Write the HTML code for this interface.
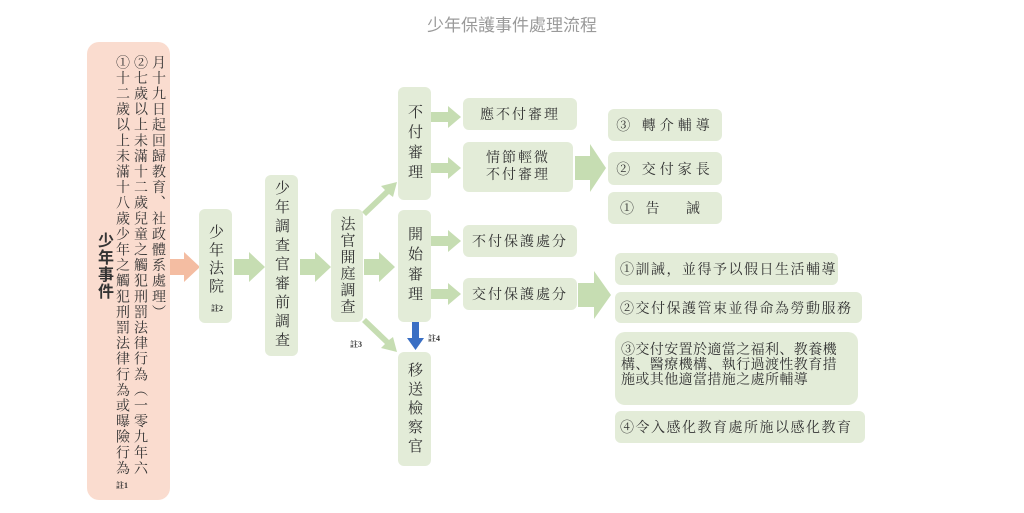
<!DOCTYPE html>
<html><head><meta charset="utf-8">
<style>
body{margin:0;width:1024px;height:513px;background:#fff;position:relative;overflow:hidden;font-family:"Liberation Serif","Noto Serif CJK SC","Noto Sans CJK TC",serif;color:#333}
.b{position:absolute;background:#e3ecd8;border-radius:6px;box-sizing:border-box}
.v{writing-mode:vertical-rl;display:flex;align-items:center;justify-content:center;font-size:15px;letter-spacing:3px}
.h{display:flex;align-items:center;justify-content:center;font-size:14px;letter-spacing:2px}
.col{position:absolute;writing-mode:vertical-rl;font-size:14px;letter-spacing:1.6px;line-height:17px}
.n{position:absolute;font-size:8px;font-weight:bold;color:#333}
svg{position:absolute;left:0;top:0}
</style></head><body>
<div style="position:absolute;left:0;width:1024px;top:11px;text-align:center;font-family:'Liberation Sans','Noto Sans CJK TC',sans-serif;font-size:17px;color:#9a9a9a">少年保護事件處理流程</div>

<div class="b" style="left:87px;top:42px;width:83px;height:458px;background:#fadccf;border-radius:12px"></div>
<div class="col" style="left:95px;top:232px;font-weight:bold;font-size:16px;letter-spacing:1px;font-family:'Liberation Sans','Noto Sans CJK TC',sans-serif">少年事件</div>
<div class="col" style="left:113px;top:55px">①十二歲以上未滿十八歲少年之觸犯刑罰法律行為或曝險行為</div>
<div class="col" style="left:131px;top:55px">②七歲以上未滿十二歲兒童之觸犯刑罰法律行為︵一零九年六</div>
<div class="col" style="left:149px;top:55px">月十九日起回歸教育、社政體系處理︶</div>
<div class="n" style="left:116px;top:480px">註1</div>

<svg width="1024" height="513">
<polygon points="170,259 184,259 184,252 200,267 184,282 184,275 170,275" fill="#f4bda2"/>
<g fill="#c6ddb2">
<polygon points="234,259 249,259 249,252 265,267 249,282 249,275 234,275"/>
<polygon points="300,259 315,259 315,252 331,267 315,282 315,275 300,275"/>
<polygon points="364,259 379,259 379,252 395,267 379,282 379,275 364,275"/>
<polygon points="431,112 448,112 448,106 461,117 448,128 448,122 431,122"/>
<polygon points="431,163 448,163 448,157 461,168 448,179 448,173 431,173"/>
<polygon points="431,236 448,236 448,230 461,241 448,252 448,246 431,246"/>
<polygon points="431,289 448,289 448,283 461,294 448,305 448,299 431,299"/>
<polygon points="575,156 590,156 590,144 606,168 590,192 590,180 575,180"/>
<polygon points="578,283 594,283 594,271 611,295 594,319 594,307 578,307"/>
<polygon points="362,212 385,190 381,186 397,182 393,197 389,194 366,216"/>
<polygon points="362,322 385,344 381,348 397,352 393,337 389,340 366,318"/>
</g>
<polygon points="412,322 419,322 419,338 424,338 415.5,350 407,338 412,338" fill="#3a6fc4"/>
</svg>

<div class="b v" style="left:199px;top:209px;width:33px;height:114px;padding-bottom:12px">少年法院</div>
<div class="n" style="left:211px;top:303px">註2</div>
<div class="b v" style="left:265px;top:175px;width:33px;height:181px;letter-spacing:4px">少年調查官審前調查</div>
<div class="b v" style="left:331px;top:209px;width:32px;height:113px;letter-spacing:1.5px">法官開庭調查</div>
<div class="n" style="left:350px;top:339px">註3</div>
<div class="b v" style="left:398px;top:87px;width:33px;height:113px;letter-spacing:5px">不付審理</div>
<div class="b v" style="left:398px;top:210px;width:33px;height:112px;letter-spacing:5px">開始審理</div>
<div class="n" style="left:428px;top:333px">註4</div>
<div class="b v" style="left:398px;top:352px;width:33px;height:114px;letter-spacing:4px">移送檢察官</div>

<div class="b h" style="left:463px;top:98px;width:114px;height:32px">應不付審理</div>
<div class="b h" style="left:463px;top:142px;width:110px;height:50px;line-height:17px;text-align:center">情節輕微<br>不付審理</div>
<div class="b h" style="left:463px;top:225px;width:114px;height:32px">不付保護處分</div>
<div class="b h" style="left:463px;top:278px;width:114px;height:32px">交付保護處分</div>

<div class="b h" style="left:608px;top:109px;width:114px;height:32px;letter-spacing:4px">③ 轉介輔導</div>
<div class="b h" style="left:608px;top:152px;width:114px;height:33px;letter-spacing:4px">② 交付家長</div>
<div class="b h" style="left:608px;top:192px;width:114px;height:32px;letter-spacing:4px;justify-content:flex-start;padding-left:12px">① 告&nbsp;&nbsp;&nbsp;誡</div>

<div class="b h" style="left:615px;top:253px;width:223px;height:32px;justify-content:flex-start;padding-left:5px;letter-spacing:1.5px">①訓誡，並得予以假日生活輔導</div>
<div class="b h" style="left:615px;top:292px;width:247px;height:31px;justify-content:flex-start;padding-left:5px;letter-spacing:1.5px">②交付保護管束並得命為勞動服務</div>
<div class="b" style="left:615px;top:332px;width:243px;height:73px;border-radius:10px;font-size:14px;letter-spacing:0.4px;line-height:15px;padding:11px 0 0 6px;white-space:nowrap">③交付安置於適當之福利、教養機<br>構、醫療機構、執行過渡性教育措<br>施或其他適當措施之處所輔導</div>
<div class="b h" style="left:615px;top:411px;width:250px;height:32px;justify-content:flex-start;padding-left:5px;letter-spacing:1.5px">④令入感化教育處所施以感化教育</div>
</body></html>
